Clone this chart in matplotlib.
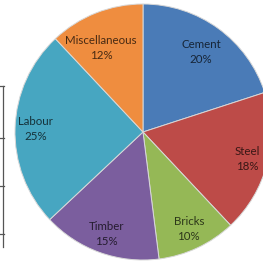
import matplotlib
matplotlib.use("Agg")
import matplotlib.pyplot as plt
import numpy as np
from matplotlib.lines import Line2D

# Cost share of building materials / labour
categories = ["Cement", "Steel", "Bricks", "Timber", "Labour", "Miscellaneous"]
shares = [20, 18, 10, 15, 25, 12]
colors = ["#4A7BB7", "#BD4B48", "#95B856", "#7B5E9E", "#47A6C1", "#EF8D3F"]
# radial position of each label, as a fraction of the radius
label_dist = [0.77, 0.84, 0.84, 0.85, 0.84, 0.73]
# small angular nudge (degrees) of each label
label_turn = [0, 0, 0, 0, 0, 5]

W = H = 263
fig = plt.figure(figsize=(W / 100, H / 100), dpi=100)
ax = fig.add_axes([0, 0, 1, 1])

cx, cy, r = 143, 131, 128
wedges, _ = ax.pie(shares, colors=colors, startangle=90, counterclock=False,
                   center=(cx, cy), radius=r, frame=True,
                   wedgeprops=dict(edgecolor="#d8d8d8", linewidth=0.7))
ax.set_xlim(0, W)
ax.set_ylim(0, H)
ax.set_aspect("auto")
ax.axis("off")

for w, name, val, d, t in zip(wedges, categories, shares, label_dist, label_turn):
    mid = np.deg2rad((w.theta1 + w.theta2) / 2 + t)
    x = cx + d * r * np.cos(mid)
    y = cy + d * r * np.sin(mid)
    ax.text(x, y, f"{name}\n{val}%", ha="center", va="center",
            fontsize=8.3, family="Lato", color="black", alpha=0.7,
            linespacing=1.45)

# fragment of a neighbouring table on the left edge
line_kw = dict(color="#555555", linewidth=0.9)
fig.add_artist(Line2D([3 / W, 3 / W], [1 - 86 / H, 1 - 247 / H], **line_kw))
for yy in [86, 138, 186, 234]:
    fig.add_artist(Line2D([0, 4 / W], [1 - yy / H, 1 - yy / H], **line_kw))

fig.savefig("out.png", dpi=100)
